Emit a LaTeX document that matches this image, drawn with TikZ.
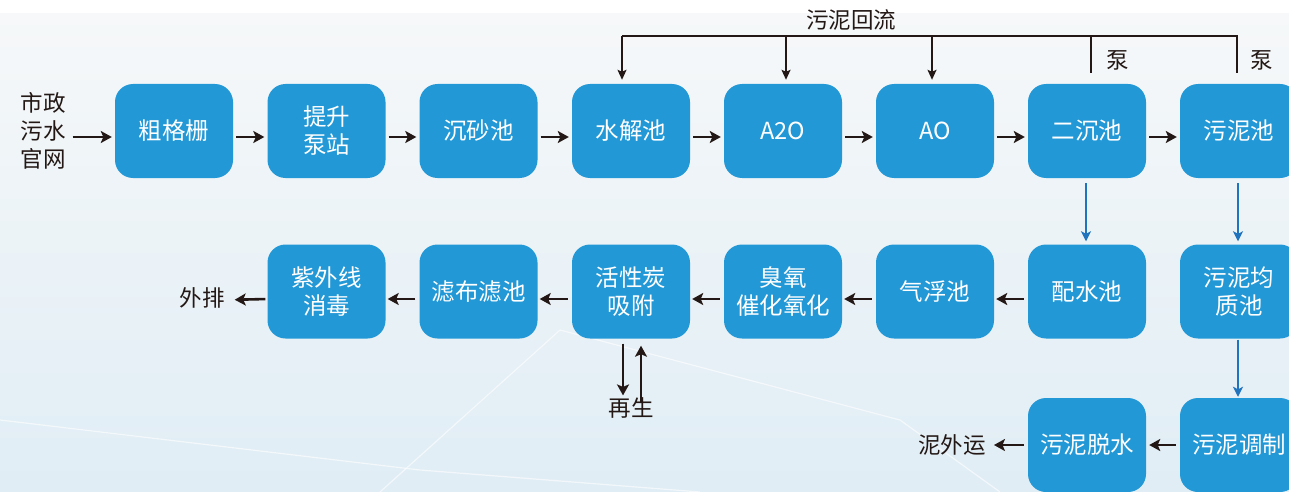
\documentclass[tikz,border=0pt]{standalone}
\usepackage{fontspec}
\setmainfont{Noto Sans CJK SC}
\usetikzlibrary{arrows.meta}
\definecolor{boxblue}{HTML}{2298D6}
\definecolor{ink}{HTML}{231815}
\definecolor{arrblue}{HTML}{1F74BD}
\definecolor{bgtop}{HTML}{F6F8F9}
\definecolor{bgbot}{HTML}{E0EDF5}
\begin{document}
\begin{tikzpicture}[x=1pt,y=-1pt,
  box/.style={fill=boxblue, rounded corners=18pt, minimum width=118pt, minimum height=94pt,
    inner sep=0pt, text=white, font=\fontsize{23.5}{28}\selectfont, align=center},
  lbl/.style={text=ink, font=\fontsize{22.5}{28}\selectfont, inner sep=0pt, align=center},
  arr/.style={draw=ink, line width=2.6pt, -{Stealth[length=11pt,width=12pt,inset=2.5pt]}},
  larr/.style={draw=ink, line width=1.7pt, -{Stealth[length=10pt,width=9pt,inset=2pt]}},
  barr/.style={draw=arrblue, line width=2.3pt, -{Stealth[length=10pt,width=10pt,inset=2.5pt]}},
  pipe/.style={draw=ink, line width=1.7pt},
]
\useasboundingbox (0,0) rectangle (1289,492);
\fill[white] (0,0) rectangle (1289,492);
\shade[top color=bgtop, bottom color=bgbot] (0,14) rectangle (1289,492);
\draw[white, line width=1.2pt, opacity=0.6] (0,420) -- (420,470) -- (700,492);
\draw[white, line width=1.2pt, opacity=0.6] (380,492) -- (560,330);
\draw[white, line width=1.2pt, opacity=0.6] (560,330) -- (900,420) -- (1000,492);

% row 1
\node[box] (cg)  at (174,131)   {粗格栅};
\node[box] (ts)  at (326.5,131) {提升\\泵站};
\node[box] (cs)  at (478.5,131) {沉砂池};
\node[box] (sj)  at (631,131)   {水解池};
\node[box] (ato) at (783,131)   {A2O};
\node[box] (ao)  at (935,131)   {AO};
\node[box] (ec)  at (1087,131)  {二沉池};
\node[box] (wn)  at (1239,131)  {污泥池};
% row 2
\node[box] (zw)  at (326.5,291.5) {紫外线\\消毒};
\node[box] (lb)  at (478.5,291.5) {滤布滤池};
\node[box] (hx)  at (631,291.5)   {活性炭\\吸附};
\node[box] (cy)  at (783,291.5)   {臭氧\\催化氧化};
\node[box] (qf)  at (935,291.5)   {气浮池};
\node[box] (ps)  at (1087,291.5)  {配水池};
\node[box] (jz)  at (1239,291.5)  {污泥均\\质池};
% row 3
\node[box] (ts2) at (1087,445) {污泥脱水};
\node[box] (tz)  at (1239,445) {污泥调制};

% labels
\node[lbl] (src) at (43,131) {市政\\污水\\官网};
\node[lbl] (wp)  at (202,298) {外排};
\node[lbl] (nw)  at (952,445) {泥外运};
\node[lbl] (zs)  at (631,408) {再生};
\node[lbl] (hl)  at (851,20)  {污泥回流};
\node[lbl] (b1)  at (1118,60) {泵};
\node[lbl] (b2)  at (1262,60) {泵};

% row 1 arrows
\draw[arr] ([yshift=-6pt]src.east) ++(7pt,0) -- ([xshift=-3pt,yshift=-6pt]cg.west);
\foreach \a/\b in {cg/ts, ts/cs, cs/sj, sj/ato, ato/ao, ao/ec, ec/wn}
  \draw[arr, shorten <=3pt, shorten >=3pt] ([yshift=-6pt]\a.east) -- ([yshift=-6pt]\b.west);
% row 2 arrows
\foreach \a/\b in {ps/qf, qf/cy, cy/hx, hx/lb, lb/zw}
  \draw[arr, shorten <=4pt, shorten >=2pt] ([yshift=-7.5pt]\a.west) -- ([yshift=-7.5pt]\b.east);
\draw[arr, shorten <=2pt, shorten >=10pt] ([yshift=-7.5pt]zw.west) -- ([yshift=-2pt]wp.east);
% row 3 arrows
\draw[arr, shorten <=4pt, shorten >=3pt] (tz.west) -- (ts2.east);
\draw[arr, shorten <=4pt, shorten >=8pt] (ts2.west) -- (nw.east);

% blue vertical arrows
\draw[barr, shorten <=5pt, shorten >=3pt] ([xshift=-1pt]ec.south) -- ([xshift=-1pt]ps.north);
\draw[barr, shorten <=5pt, shorten >=3pt] ([xshift=-1pt]wn.south) -- ([xshift=-1pt]jz.north);
\draw[barr, shorten <=1pt, shorten >=1pt] ([xshift=-1pt]jz.south) -- ([xshift=-1pt]tz.north);

% regeneration arrows
\draw[arr, shorten <=5pt, shorten >=2pt] ([xshift=-8pt]hx.south) -- ([xshift=-8pt]hx.south |- zs.north);
\draw[arr, shorten <=-6pt, shorten >=7pt] ([xshift=10pt]hx.south |- zs.north) -- ([xshift=10pt]hx.south);

% sludge return loop
\coordinate (L)  at (622,36);
\coordinate (M1) at (786,36);
\coordinate (M2) at (932,36);
\coordinate (R1) at (1091,36);
\coordinate (R2) at (1237,36);
\coordinate (P1) at (1091,73);
\coordinate (P2) at (1237,73);
\draw[pipe] (P2) -- (R2) -- (L);
\draw[pipe] (P1) -- (R1);
\draw[larr, shorten >=4pt] (L)  -- (L |- sj.north);
\draw[larr, shorten >=4pt] (M1) -- (M1 |- ato.north);
\draw[larr, shorten >=4pt] (M2) -- (M2 |- ao.north);
\end{tikzpicture}
\end{document}
